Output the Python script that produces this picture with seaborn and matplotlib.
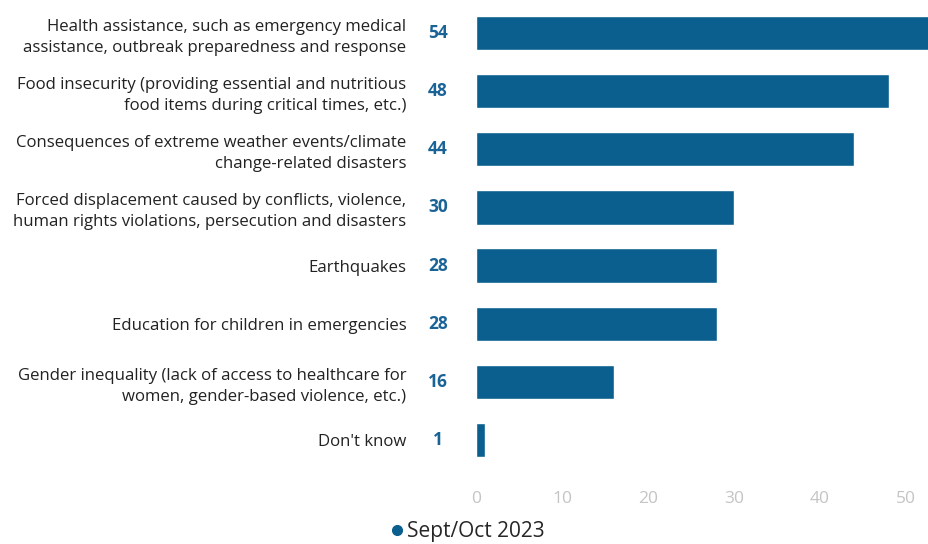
import matplotlib
matplotlib.use("Agg")
import matplotlib.pyplot as plt
import matplotlib.transforms as mtransforms
from matplotlib.lines import Line2D
import seaborn as sns
import pandas as pd

categories = [
    "Health assistance, such as emergency medical\nassistance, outbreak preparedness and response",
    "Food insecurity (providing essential and nutritious\nfood items during critical times, etc.)",
    "Consequences of extreme weather events/climate\nchange-related disasters",
    "Forced displacement caused by conflicts, violence,\nhuman rights violations, persecution and disasters",
    "Earthquakes",
    "Education for children in emergencies",
    "Gender inequality (lack of access to healthcare for\nwomen, gender-based violence, etc.)",
    "Don't know",
]
values = [54, 48, 44, 30, 28, 28, 16, 1]
series_name = "Sept/Oct 2023"
x_ticks = [0, 10, 20, 30, 40, 50]

BLUE = "#0B5F8F"
LABEL_BLUE = "#1A6396"

sns.set_theme(style="white")
plt.rcParams["font.family"] = ["Open Sans", "DejaVu Sans"]

df = pd.DataFrame({"category": categories, "value": values})

fig = plt.figure(figsize=(9.29, 5.44), dpi=100)
ax = fig.add_axes([476 / 929, 1 - 469 / 544, 1 - 476 / 929, (469 - 4) / 544])

sns.barplot(data=df, x="value", y="category", color=BLUE, saturation=1,
            width=0.59, orient="h", ax=ax)

ax.set_xlim(0, (929 - 476) / 8.6)
ax.set_ylim(7.5, -0.5)
ax.set_xticks(x_ticks)
ax.set_xticklabels([str(t) for t in x_ticks], color="#C4C4C4", fontsize=12.5)
ax.tick_params(axis="x", length=0, pad=16)
ax.tick_params(axis="y", length=0, pad=50)
for lbl in ax.get_yticklabels():
    lbl.set_fontsize(12.1)
    lbl.set_color("#222222")
    lbl.set_horizontalalignment("right")
    lbl.set_multialignment("right")
    lbl.set_linespacing(1.4)
ax.set_xlabel("")
ax.set_ylabel("")
for s in ax.spines.values():
    s.set_visible(False)
ax.grid(False)

trans = mtransforms.blended_transform_factory(ax.transAxes, ax.transData)
for i, v in enumerate(values):
    ax.text(-38 / 453, i, str(v), transform=trans, ha="center", va="center",
            fontsize=12.5, fontweight="bold", color=LABEL_BLUE)

handle = Line2D([], [], marker="o", linestyle="none", markersize=7,
                markerfacecolor=BLUE, markeredgecolor=BLUE)
fig.legend([handle], [series_name], loc="center", bbox_to_anchor=(466 / 929, 1 - 532 / 544),
           frameon=False, fontsize=15, handletextpad=0.0, handlelength=0.9,
           borderpad=0, borderaxespad=0)

fig.savefig("out.png", dpi=100)
